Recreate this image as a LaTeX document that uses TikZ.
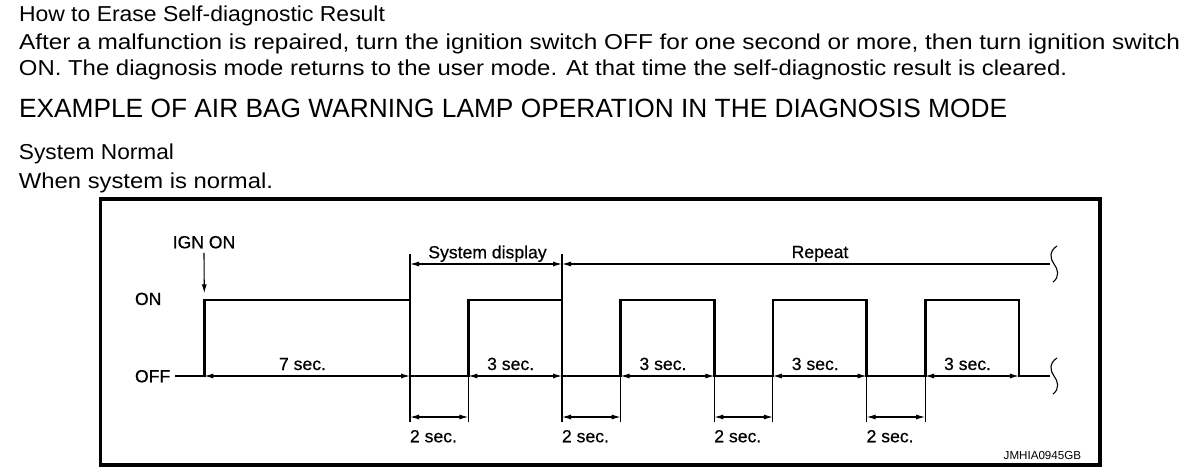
\documentclass[tikz,border=0pt]{standalone}
\usepackage{fontspec}
\setmainfont{Liberation Sans}
\newfontfamily\lblfont{Liberation Sans}[FakeBold=0.6]
\usetikzlibrary{arrows.meta,calc}
\newcommand{\hdrtext}[3]{\resizebox{#1}{\height}{\fontsize{#2}{#2}\selectfont #3}}
\begin{document}
\begin{tikzpicture}[x=1pt,y=-1pt,
  hdr/.style={anchor=base west, inner sep=0pt, outer sep=0pt},
  lbl/.style={inner sep=0pt, outer sep=0pt, font=\lblfont\fontsize{17.6}{20}\selectfont},
  sig/.style={line width=2.6pt, line join=miter},
  ext/.style={line width=1.1pt},
  dim/.style={ext, {Latex[length=9pt,width=5pt]}-{Latex[length=9pt,width=5pt]}},
  frm/.style={line width=3.6pt}]
\useasboundingbox (0,0) rectangle (1200,473);
% header texts
\node[hdr] (h1) at (19,21.7) {\hdrtext{366pt}{21.6}{How to Erase Self-diagnostic Result}};
\node[hdr] (h2) at (19,50) {\hdrtext{1161pt}{21.6}{After a malfunction is repaired, turn the ignition switch OFF for one second or more, then turn ignition switch}};
\node[hdr] (h3) at (19,76) {\hdrtext{1048pt}{21.6}{ON. The diagnosis mode returns to the user mode. At that time the self-diagnostic result is cleared.}};
\node[hdr] (h4) at (19,117.3) {\hdrtext{988pt}{26.4}{EXAMPLE OF AIR BAG WARNING LAMP OPERATION IN THE DIAGNOSIS MODE}};
\node[hdr] (h5) at (19,160) {\hdrtext{155pt}{21.6}{System Normal}};
\node[hdr] (h6) at (19,188.3) {\hdrtext{254pt}{21.6}{When system is normal.}};
% frame
\draw[frm] (100.5,199) rectangle (1100,465);
% coordinates
\coordinate (s0) at (175,376);
\coordinate (send) at (1050,376);
\foreach \n/\x in {r0/204.3, f0/410, r1/468.3, f1/562, r2/620.6, f2/714.3, r3/772.9, f3/866.6, r4/925.2, f4/1018.9} {
  \coordinate (\n) at (\x,376);
  \coordinate (h\n) at (\x,300);
  \coordinate (t\n) at (\x,254);
  \coordinate (d\n) at (\x,264);
}
\coordinate (dend) at (1050,264);
% signal
\draw[sig] (s0) -- (r0) -- (hr0) -- (hf0) -- (f0) -- (r1) -- (hr1) -- (hf1) -- (f1)
  -- (r2) -- (hr2) -- (hf2) -- (f2) -- (r3) -- (hr3) -- (hf3) -- (f3)
  -- (r4) -- (hr4) -- (hf4) -- (f4) -- (send);
% level labels
\node[lbl, anchor=base west] (on) at (135,305) {ON};
\node[lbl, anchor=base west] (off) at (135,382.3) {OFF};
\node[lbl, anchor=base] (ign) at (204,248.3) {IGN ON};
\draw[ext, -{Latex[length=9pt,width=5pt]}] ([yshift=-4.4pt]ign.south) -- ([yshift=6.7pt]hr0);
% system display / repeat
\draw[ext] (tf0) -- (hf0);
\draw[ext] (tf1) -- (hf1);
\draw[dim] (df0) -- (df1);
\draw[ext, {Latex[length=9pt,width=5pt]}-] (df1) -- (dend);
\node[lbl, anchor=base] (sysd) at (487.5,258.3) {System display};
\node[lbl, anchor=base] (rep) at (820,258) {Repeat};
% 7 sec / 3 sec
\draw[dim] (r0) -- (f0);
\node[lbl, anchor=base] (l7) at (302.5,370) {7 sec.};
\foreach \i in {1,...,4} {
  \draw[dim] (r\i) -- (f\i);
  \node[lbl, anchor=base] (l3\i) at ($(r\i)!0.5!(f\i)+(-4.5,-6)$) {3 sec.};
}
% 2 sec
\foreach \a/\b in {f0/r1, f1/r2, f2/r3, f3/r4} {
  \draw[ext] (\a) -- ++(0,46);
  \draw[ext] (\b) -- ++(0,46);
  \draw[dim] ([yshift=-41pt]\a) -- ([yshift=-41pt]\b);
  \node[lbl, anchor=base west] (two\a) at ([yshift=-66.3pt]\a) {2 sec.};
}
% break marks
\draw[ext] (1057,246) .. controls (1049,251) and (1050,259) .. (1054,264) .. controls (1058,269) and (1060,277) .. (1053,282);
\draw[ext] (1057,358) .. controls (1049,363) and (1050,371) .. (1054,376) .. controls (1058,381) and (1060,389) .. (1053,394);
% code
\node[inner sep=0pt, anchor=base west, font=\fontsize{11.6}{13}\selectfont] (code) at (1003.5,459.3) {JMHIA0945GB};
\end{tikzpicture}
\end{document}
